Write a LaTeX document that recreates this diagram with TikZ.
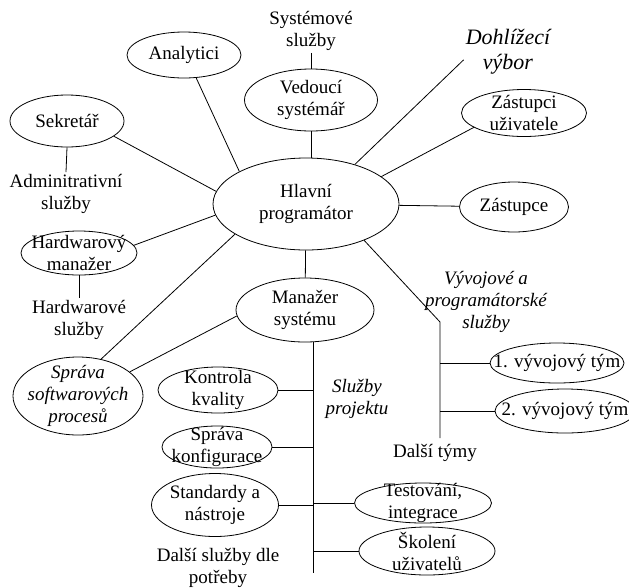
\documentclass[tikz,border=0pt]{standalone}
\usepackage{fontspec}
\setmainfont{Liberation Serif}
\usetikzlibrary{
    positioning,
    shapes.geometric
}
\tikzset{
    role/.style={
        ellipse,
        draw=black,
        line width=0.8pt,
        inner sep=-30pt,
        align=center,
        font=\fontsize{19}{22}\selectfont
    },
    roleit/.style={
        role,
        font=\fontsize{19}{22}\selectfont\itshape
    },
    dims/.style 2 args={
        minimum width=#1pt,
        minimum height=#2pt
    },
    tag/.style={
        align=center,
        inner sep=2pt,
        font=\fontsize{19}{22}\selectfont
    },
    tagit/.style={
        tag,
        font=\fontsize{19}{22}\selectfont\itshape
    },
    link/.style={
        line width=0.8pt
    }
}

\begin{document}
\begin{tikzpicture}[x=1pt, y=-1pt]
\useasboundingbox (0,0) rectangle (629,587);

\node[role, dims={186}{92}] (hlavni) at (306,204) {Hlavní\\programátor};

\node[role, dims={114}{46}] (analytici) at (184,55) {Analytici};
\node[role, dims={114}{52}] (sekretar) at (67,121) {Sekretář};
\node[tag] (admin) at (66,194) {Adminitrativní\\služby};
\node[role, dims={116}{44}] (hwman) at (79,253) {Hardwarový\\manažer};
\node[tag] (hwsluzby) at (79,320) {Hardwarové\\služby};
\node[roleit, dims={130}{78}] (spravasw) at (78,396) {Správa\\softwarových\\procesů};

\node[role, dims={133}{62}] (vedouci) at (311,100) {Vedoucí\\systémář};
\node[tag] (syssluzby) at (311,31) {Systémové\\služby};
\node[tag, font=\fontsize{22}{25}\selectfont\itshape] (dohlizeci) at (508,52) {Dohlížecí\\výbor};
\node[role, dims={125}{47}] (zastupci) at (524,113) {Zástupci\\uživatele};
\node[role, dims={109}{50}] (zastupce) at (514,207) {Zástupce};

\node[tagit] (vyvoj) at (486,302) {Vývojové a\\programátorské\\služby};
\coordinate (vbend) at (440,322);
\coordinate (vend) at (440,438);
\node[role, dims={134}{40}] (tym1) at (557,363) {1. vývojový tým};
\node[role, dims={140}{44}] (tym2) at (565,411) {2. vývojový tým};
\node[tag] (dalsitymy) at (435,453) {Další týmy};

\node[role, dims={138}{64}] (manazer) at (305,310) {Manažer\\systému};
\coordinate (spineend) at (313,573);
\node[role, dims={120}{46}] (kontrola) at (218,390) {Kontrola\\kvality};
\node[role, dims={110}{42}] (konfig) at (217,447) {Správa\\konfigurace};
\node[role, dims={127}{63}] (standardy) at (215,505) {Standardy a\\nástroje};
\node[tag] (dalsisluzby) at (218,568) {Další služby dle\\potřeby};
\node[tagit] (projekt) at (357,399) {Služby\\projektu};
\node[role, dims={137}{40}] (testovani) at (423,503) {Testování,\\integrace};
\node[role, dims={136}{48}] (skoleni) at (427,551) {Školení\\uživatelů};

\draw[link] (analytici.-62) -- (hlavni.154);
\draw[link] (sekretar.-18) -- (hlavni.172);
\draw[link] (sekretar.south) -- (admin.north);
\draw[link] (hwman.8) -- (hlavni.187);
\draw[link] (hwman) -- (hwsluzby);
\draw[link] (spravasw.58) -- (hlavni.203);
\draw[link] (spravasw.25) -- (manazer.185);
\draw[link] (syssluzby) -- (vedouci);
\draw[link] (vedouci.south) -- (vedouci.south |- hlavni.north);
\draw[link] (hlavni.39) -- (dohlizeci.190);
\draw[link] (hlavni.20) -- (zastupci.196);
\draw[link] (hlavni) -- (zastupce);
\draw[link] (hlavni.-32) -- (vbend) -- (vend);
\draw[link] (tym1.west -| vbend) -- (tym1.west);
\draw[link] (tym2.west -| vbend) -- (tym2.west);
\draw[link] (hlavni) -- (manazer);
\draw[link] (manazer.south -| spineend) -- (spineend);
\draw[link] (kontrola.east) -- (kontrola.east -| spineend);
\draw[link] (konfig.east) -- (konfig.east -| spineend);
\draw[link] (standardy.east) -- (standardy.east -| spineend);
\draw[link] (testovani.west -| spineend) -- (testovani.west);
\draw[link] (skoleni.west -| spineend) -- (skoleni.west);
\end{tikzpicture}
\end{document}
